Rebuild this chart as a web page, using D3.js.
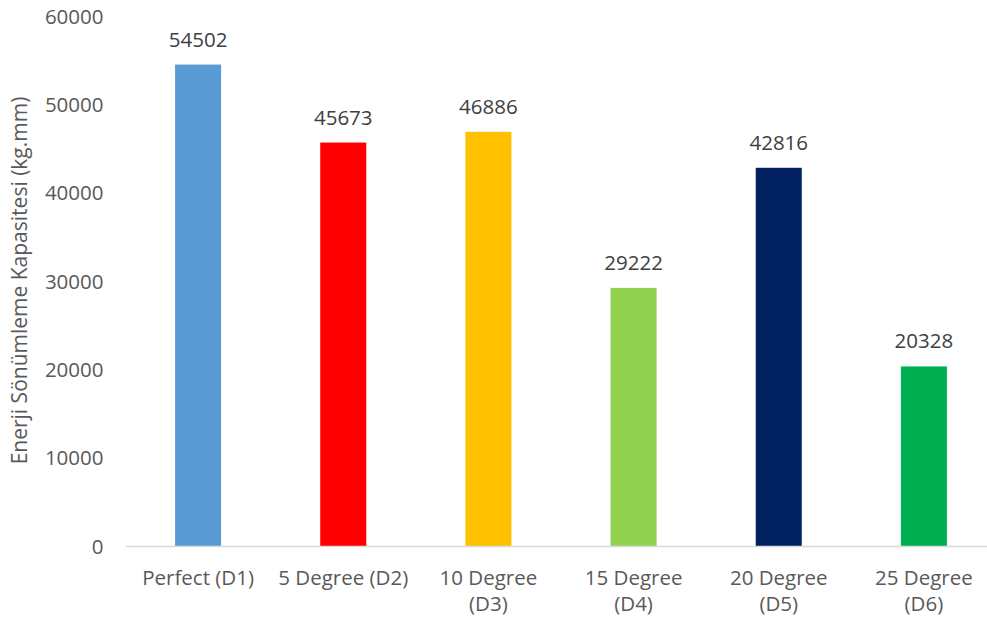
<!DOCTYPE html>
<html>
<head>
<meta charset="utf-8">
<script src="https://cdn.jsdelivr.net/npm/d3@7"></script>
<style>
  html, body { margin: 0; padding: 0; background: #fff; }
  svg { display: block; }
  text { font-family: "Open Sans", "Noto Sans", sans-serif; fill: #595959; }
</style>
</head>
<body>
<svg id="chart" width="987" height="621"></svg>
<script>
// Energy absorption capacity per specimen
const categories = ["Perfect (D1)", "5 Degree (D2)", "10 Degree (D3)", "15 Degree (D4)", "20 Degree (D5)", "25 Degree (D6)"];
const labelLines = [["Perfect (D1)"], ["5 Degree (D2)"], ["10 Degree", "(D3)"], ["15 Degree", "(D4)"], ["20 Degree", "(D5)"], ["25 Degree", "(D6)"]];
const values = [54502, 45673, 46886, 29222, 42816, 20328];
const barColors = ["#5B9BD5", "#FF0000", "#FFC000", "#92D050", "#002060", "#00B050"];
const yTicks = [0, 10000, 20000, 30000, 40000, 50000, 60000];
const yTitle = "Enerji Sönümleme Kapasitesi (kg.mm)";

const svg = d3.select("#chart");
const plotLeft = 125.5, plotRight = 996.5, plotTop = 16, plotBottom = 546;
const fontSize = "20.5px";

const x = d3.scaleBand().domain(categories).range([plotLeft, plotRight]).paddingInner(0.683).paddingOuter(0.3415);
const y = d3.scaleLinear().domain([0, 60000]).range([plotBottom, plotTop]);

// Value axis: labels only, no line or ticks
const yAxis = svg.append("g")
  .attr("transform", `translate(${plotLeft},0)`)
  .call(d3.axisLeft(y).tickValues(yTicks).tickSize(0).tickPadding(22).tickFormat(d3.format("d")));
yAxis.select(".domain").remove();
yAxis.selectAll("text").style("font-size", fontSize).attr("fill", "#595959").attr("dy", "0.35em");

// Bars
svg.append("g").selectAll("rect")
  .data(values)
  .join("rect")
  .attr("x", (d, i) => x(categories[i]))
  .attr("width", x.bandwidth())
  .attr("y", d => y(d))
  .attr("height", d => y(0) - y(d))
  .attr("fill", (d, i) => barColors[i]);

// Value labels
svg.append("g").selectAll("text")
  .data(values)
  .join("text")
  .attr("x", (d, i) => x(categories[i]) + x.bandwidth() / 2)
  .attr("y", d => y(d) - 18)
  .attr("text-anchor", "middle")
  .style("font-size", fontSize)
  .style("fill", "#404040")
  .text(d => d);

// Category axis
const xAxis = svg.append("g")
  .attr("transform", `translate(0,${plotBottom})`)
  .call(d3.axisBottom(x).tickSize(0).tickFormat(""));
xAxis.select(".domain").attr("stroke", "#D9D9D9").attr("stroke-width", 1.3);

const xl = svg.append("g").selectAll("text")
  .data(categories)
  .join("text")
  .attr("x", d => x(d) + x.bandwidth() / 2)
  .attr("y", plotBottom + 39)
  .attr("text-anchor", "middle")
  .style("font-size", fontSize);
xl.each(function(d, i) {
  const t = d3.select(this);
  labelLines[i].forEach((line, j) => {
    t.append("tspan")
      .attr("x", x(d) + x.bandwidth() / 2)
      .attr("dy", j === 0 ? 0 : 26)
      .text(line);
  });
});

// Axis title
svg.append("text")
  .attr("transform", `translate(27,280.5) rotate(-90)`)
  .attr("text-anchor", "middle")
  .style("font-size", "21px")
  .text(yTitle);
</script>
</body>
</html>
